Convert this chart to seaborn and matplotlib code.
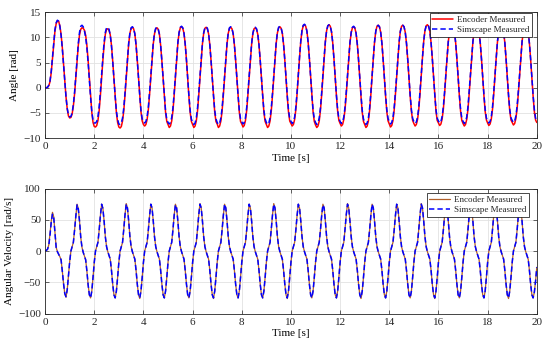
import matplotlib
matplotlib.use("Agg")
import matplotlib.pyplot as plt
import seaborn as sns
import numpy as np

# sampled every 0.05 s, one row per second, last value at t = 20 s
encoder_angle = [
    0.0, 0.0, 0.1, 0.4, 1.2, 3.0, 5.8, 8.8, 11.2, 12.7, 13.3, 13.2, 12.3, 10.6, 8.0, 4.8, 1.4, -1.8, -4.2, -5.6,
    -6.0, -5.9, -5.2, -3.6, -1.2, 2.0, 5.4, 8.4, 10.5, 11.6, 11.9, 11.8, 11.4, 10.4, 8.4, 5.4, 1.9, -1.8, -4.9, -6.9,
    -7.7, -7.8, -7.5, -6.5, -4.5, -1.5, 2.0, 5.4, 8.5, 10.6, 11.6, 11.7, 11.4, 10.5, 8.4, 5.3, 1.8, -1.9, -5.0, -6.9,
    -7.8, -8.0, -7.7, -6.6, -4.6, -1.5, 2.0, 5.5, 8.7, 10.8, 11.8, 12.0, 11.7, 10.7, 8.5, 5.4, 1.9, -1.8, -4.8, -6.6,
    -7.3, -7.6, -7.3, -6.3, -4.3, -1.3, 2.1, 5.6, 8.7, 10.7, 11.7, 11.9, 11.6, 10.6, 8.4, 5.3, 1.8, -1.9, -4.9, -6.7,
    -7.3, -7.9, -7.6, -6.6, -4.6, -1.5, 2.0, 5.6, 8.8, 10.9, 11.9, 12.1, 11.8, 10.8, 8.6, 5.5, 1.9, -1.8, -4.9, -6.7,
    -7.3, -7.9, -7.6, -6.6, -4.6, -1.5, 2.0, 5.5, 8.7, 10.8, 11.8, 12.0, 11.7, 10.7, 8.5, 5.4, 1.9, -1.8, -4.9, -6.7,
    -7.2, -7.9, -7.6, -6.6, -4.6, -1.5, 2.0, 5.5, 8.7, 10.8, 11.8, 12.0, 11.7, 10.7, 8.5, 5.4, 1.9, -1.8, -4.9, -6.7,
    -7.2, -7.8, -7.5, -6.5, -4.5, -1.4, 2.0, 5.5, 8.6, 10.7, 11.7, 11.9, 11.6, 10.6, 8.5, 5.4, 1.9, -1.8, -4.9, -6.7,
    -7.3, -7.9, -7.6, -6.6, -4.6, -1.5, 2.0, 5.6, 8.8, 10.9, 11.9, 12.1, 11.8, 10.8, 8.6, 5.5, 1.9, -1.8, -4.8, -6.6,
    -7.1, -7.6, -7.3, -6.3, -4.3, -1.2, 2.4, 6.0, 9.2, 11.3, 12.3, 12.5, 12.2, 11.2, 9.0, 5.8, 2.2, -1.6, -4.8, -6.7,
    -7.4, -7.9, -7.6, -6.6, -4.5, -1.4, 2.2, 5.9, 9.1, 11.3, 12.3, 12.5, 12.2, 11.1, 8.9, 5.7, 2.1, -1.6, -4.7, -6.5,
    -7.1, -7.6, -7.3, -6.3, -4.3, -1.3, 2.2, 5.7, 8.9, 10.9, 11.9, 12.1, 11.8, 10.8, 8.6, 5.5, 1.9, -1.8, -4.9, -6.7,
    -7.3, -7.9, -7.6, -6.6, -4.5, -1.4, 2.2, 5.8, 9.0, 11.2, 12.2, 12.4, 12.1, 11.0, 8.8, 5.6, 2.0, -1.7, -4.8, -6.6,
    -7.2, -7.8, -7.5, -6.5, -4.4, -1.3, 2.2, 5.8, 9.0, 11.2, 12.2, 12.4, 12.1, 11.0, 8.8, 5.6, 2.0, -1.7, -4.7, -6.5,
    -7.1, -7.6, -7.3, -6.3, -4.3, -1.2, 2.4, 6.0, 9.2, 11.3, 12.3, 12.5, 12.2, 11.2, 8.9, 5.8, 2.2, -1.6, -4.7, -6.5,
    -7.0, -7.5, -7.2, -6.2, -4.2, -1.2, 2.4, 6.0, 9.1, 11.2, 12.2, 12.4, 12.1, 11.1, 8.9, 5.7, 2.1, -1.6, -4.7, -6.5,
    -7.1, -7.6, -7.3, -6.3, -4.3, -1.2, 2.3, 5.9, 9.1, 11.2, 12.2, 12.4, 12.1, 11.1, 8.9, 5.7, 2.1, -1.6, -4.7, -6.4,
    -7.0, -7.5, -7.2, -6.2, -4.2, -1.2, 2.4, 6.0, 9.1, 11.2, 12.2, 12.4, 12.1, 11.1, 8.9, 5.7, 2.1, -1.6, -4.6, -6.4,
    -6.9, -7.4, -7.1, -6.1, -4.1, -1.1, 2.4, 6.0, 9.1, 11.1, 12.1, 12.3, 12.0, 11.0, 8.8, 5.6, 2.0, -1.7, -4.7, -6.4,
    -6.9,
]

simscape_angle = [
    0.0, 0.0, 0.1, 0.5, 1.4, 3.3, 6.1, 9.1, 11.5, 12.9, 13.4, 13.2, 12.2, 10.4, 7.8, 4.6, 1.3, -1.8, -4.1, -5.4,
    -5.8, -5.7, -5.0, -3.3, -0.8, 2.4, 5.8, 8.8, 11.0, 12.2, 12.4, 12.1, 11.3, 10.0, 7.9, 5.0, 1.6, -1.9, -4.7, -6.5,
    -7.0, -7.0, -6.7, -5.7, -3.7, -0.7, 2.8, 6.1, 9.0, 11.0, 11.9, 12.0, 11.6, 10.5, 8.3, 5.2, 1.8, -1.7, -4.6, -6.3,
    -7.2, -7.3, -7.0, -6.0, -4.0, -1.0, 2.4, 5.8, 8.9, 10.9, 11.9, 12.1, 11.8, 10.7, 8.5, 5.4, 1.9, -1.6, -4.5, -6.2,
    -6.8, -7.0, -6.7, -5.7, -3.8, -0.8, 2.5, 5.9, 8.9, 10.9, 11.8, 12.0, 11.7, 10.6, 8.4, 5.3, 1.9, -1.7, -4.6, -6.3,
    -6.9, -7.2, -6.9, -5.9, -4.0, -1.0, 2.4, 5.9, 9.0, 11.0, 12.0, 12.2, 11.9, 10.8, 8.6, 5.5, 2.0, -1.6, -4.5, -6.2,
    -6.9, -7.3, -7.0, -6.0, -4.0, -1.0, 2.4, 5.8, 8.9, 10.9, 11.9, 12.1, 11.8, 10.7, 8.5, 5.4, 1.9, -1.6, -4.5, -6.2,
    -6.9, -7.3, -7.0, -6.0, -4.0, -1.0, 2.4, 5.8, 8.9, 10.9, 11.9, 12.1, 11.8, 10.7, 8.5, 5.4, 1.9, -1.6, -4.5, -6.2,
    -6.8, -7.2, -6.9, -5.9, -3.9, -0.9, 2.4, 5.8, 8.8, 10.8, 11.8, 12.0, 11.7, 10.7, 8.5, 5.4, 1.9, -1.6, -4.5, -6.2,
    -6.9, -7.3, -7.0, -6.0, -4.0, -1.0, 2.4, 5.9, 9.0, 11.0, 12.0, 12.2, 11.9, 10.8, 8.6, 5.5, 2.0, -1.5, -4.4, -6.1,
    -6.7, -7.1, -6.8, -5.8, -3.8, -0.8, 2.7, 6.2, 9.3, 11.4, 12.4, 12.6, 12.3, 11.2, 8.9, 5.8, 2.2, -1.4, -4.4, -6.2,
    -6.9, -7.3, -7.0, -6.0, -4.0, -0.9, 2.6, 6.1, 9.2, 11.3, 12.3, 12.5, 12.2, 11.1, 8.9, 5.7, 2.1, -1.5, -4.4, -6.1,
    -6.7, -7.1, -6.8, -5.8, -3.8, -0.8, 2.5, 5.9, 9.0, 11.0, 12.0, 12.2, 11.9, 10.8, 8.6, 5.5, 2.0, -1.5, -4.5, -6.2,
    -6.9, -7.3, -7.0, -6.0, -4.0, -0.9, 2.5, 6.0, 9.1, 11.2, 12.2, 12.4, 12.1, 11.0, 8.8, 5.6, 2.0, -1.5, -4.4, -6.1,
    -6.8, -7.2, -6.9, -5.9, -3.9, -0.8, 2.6, 6.0, 9.1, 11.2, 12.2, 12.4, 12.1, 11.0, 8.8, 5.6, 2.0, -1.5, -4.4, -6.1,
    -6.7, -7.1, -6.8, -5.8, -3.8, -0.7, 2.7, 6.2, 9.3, 11.3, 12.3, 12.5, 12.2, 11.2, 8.9, 5.8, 2.2, -1.4, -4.4, -6.1,
    -6.6, -7.0, -6.7, -5.7, -3.7, -0.7, 2.7, 6.1, 9.2, 11.2, 12.2, 12.4, 12.1, 11.1, 8.9, 5.7, 2.1, -1.4, -4.3, -6.0,
    -6.7, -7.1, -6.8, -5.8, -3.8, -0.7, 2.6, 6.0, 9.1, 11.2, 12.2, 12.4, 12.1, 11.1, 8.9, 5.7, 2.1, -1.4, -4.3, -6.0,
    -6.6, -7.0, -6.7, -5.7, -3.7, -0.7, 2.7, 6.1, 9.2, 11.2, 12.2, 12.4, 12.1, 11.1, 8.9, 5.7, 2.1, -1.4, -4.3, -6.0,
    -6.5, -6.9, -6.6, -5.6, -3.6, -0.6, 2.7, 6.1, 9.1, 11.1, 12.1, 12.3, 12.0, 11.0, 8.8, 5.6, 2.0, -1.5, -4.3, -6.0,
    -6.5,
]

encoder_velocity = [
    0, 1, 3, 10, 28, 48, 62, 55, 30, 6, -1, -5, -9, -14, -32, -52, -68, -74, -62, -40,
    -17, 0, 7, 14, 34, 56, 75, 68, 48, 22, 6, -2, -8, -14, -32, -54, -70, -75, -64, -42,
    -18, 0, 7, 14, 34, 57, 75, 69, 48, 23, 7, -1, -7, -13, -31, -53, -70, -75, -64, -42,
    -18, 0, 7, 14, 35, 58, 76, 69, 48, 23, 7, -1, -7, -13, -31, -53, -70, -76, -64, -42,
    -18, 0, 7, 14, 34, 57, 75, 69, 48, 23, 7, -1, -7, -13, -31, -53, -70, -75, -64, -42,
    -18, 0, 7, 14, 34, 57, 75, 69, 48, 23, 7, -1, -7, -13, -31, -53, -70, -75, -64, -42,
    -18, 0, 7, 14, 35, 58, 76, 69, 48, 23, 7, -1, -7, -13, -31, -53, -70, -76, -64, -42,
    -18, 0, 7, 14, 34, 57, 75, 69, 48, 23, 7, -1, -7, -13, -31, -53, -70, -75, -64, -42,
    -18, 0, 7, 14, 34, 57, 75, 69, 48, 23, 7, -1, -7, -13, -31, -53, -70, -75, -64, -42,
    -18, 0, 7, 14, 35, 58, 76, 69, 48, 23, 7, -1, -7, -13, -31, -53, -70, -76, -64, -42,
    -18, 0, 7, 14, 34, 57, 75, 69, 48, 23, 7, -1, -7, -13, -31, -53, -70, -75, -64, -42,
    -18, 0, 7, 14, 34, 57, 75, 69, 48, 23, 7, -1, -7, -13, -31, -53, -70, -75, -64, -42,
    -18, 0, 7, 14, 35, 58, 76, 69, 48, 23, 7, -1, -7, -13, -31, -53, -70, -76, -64, -42,
    -18, 0, 7, 14, 34, 57, 75, 69, 48, 23, 7, -1, -7, -13, -31, -53, -70, -75, -64, -42,
    -18, 0, 7, 14, 34, 57, 75, 69, 48, 23, 7, -1, -7, -13, -31, -53, -70, -75, -64, -42,
    -18, 0, 7, 14, 35, 58, 76, 69, 48, 23, 7, -1, -7, -13, -31, -53, -70, -76, -64, -42,
    -18, 0, 7, 14, 34, 57, 75, 69, 48, 23, 7, -1, -7, -13, -31, -53, -70, -75, -64, -42,
    -18, 0, 7, 14, 34, 57, 75, 69, 48, 23, 7, -1, -7, -13, -31, -53, -70, -75, -64, -42,
    -18, 0, 7, 14, 35, 58, 76, 69, 48, 23, 7, -1, -7, -13, -31, -53, -70, -76, -64, -42,
    -18, 0, 7, 14, 34, 57, 75, 69, 48, 23, 7, -1, -7, -13, -31, -53, -70, -75, -66, -48,
    -26,
]

simscape_velocity = [
    0, 1, 3, 9, 26, 46, 59, 54, 30, 6, -1, -5, -9, -14, -32, -52, -68, -73, -62, -40,
    -17, 0, 7, 14, 34, 56, 74, 68, 48, 22, 6, -2, -8, -14, -32, -54, -70, -75, -64, -42,
    -18, 0, 7, 14, 34, 57, 75, 68, 48, 23, 7, -1, -7, -13, -31, -53, -70, -75, -64, -42,
    -18, 0, 7, 14, 35, 58, 75, 69, 48, 23, 7, -1, -7, -13, -31, -53, -70, -75, -64, -42,
    -18, 0, 7, 14, 34, 57, 75, 69, 48, 23, 7, -1, -7, -13, -31, -53, -70, -75, -64, -42,
    -18, 0, 7, 14, 34, 57, 74, 69, 48, 23, 7, -1, -7, -13, -31, -53, -70, -75, -64, -42,
    -18, 0, 7, 14, 35, 58, 75, 69, 48, 23, 7, -1, -7, -13, -31, -53, -70, -75, -64, -42,
    -18, 0, 7, 14, 34, 57, 75, 69, 48, 23, 7, -1, -7, -13, -31, -53, -70, -75, -64, -42,
    -18, 0, 7, 14, 34, 57, 75, 69, 48, 23, 7, -1, -7, -13, -31, -53, -70, -75, -64, -42,
    -18, 0, 7, 14, 35, 58, 75, 69, 48, 23, 7, -1, -7, -13, -31, -53, -70, -75, -64, -42,
    -18, 0, 7, 14, 34, 57, 75, 69, 48, 23, 7, -1, -7, -13, -31, -53, -70, -75, -64, -42,
    -18, 0, 7, 14, 34, 57, 74, 69, 48, 23, 7, -1, -7, -13, -31, -53, -70, -75, -64, -42,
    -18, 0, 7, 14, 35, 58, 75, 69, 48, 23, 7, -1, -7, -13, -31, -53, -70, -75, -64, -42,
    -18, 0, 7, 14, 34, 57, 75, 69, 48, 23, 7, -1, -7, -13, -31, -53, -70, -75, -64, -42,
    -18, 0, 7, 14, 34, 57, 75, 69, 48, 23, 7, -1, -7, -13, -31, -53, -70, -75, -64, -42,
    -18, 0, 7, 14, 35, 58, 75, 69, 48, 23, 7, -1, -7, -13, -31, -53, -70, -75, -64, -42,
    -18, 0, 7, 14, 34, 57, 75, 69, 48, 23, 7, -1, -7, -13, -31, -53, -70, -75, -64, -42,
    -18, 0, 7, 14, 34, 57, 74, 69, 48, 23, 7, -1, -7, -13, -31, -53, -70, -75, -64, -42,
    -18, 0, 7, 14, 35, 58, 75, 69, 48, 23, 7, -1, -7, -13, -31, -53, -70, -75, -64, -42,
    -18, 0, 7, 14, 34, 57, 75, 69, 48, 23, 7, -1, -7, -13, -31, -53, -70, -75, -66, -48,
    -26,
]

sample_step = 0.05
time_s = np.round(np.arange(len(encoder_angle)) * sample_step, 2)

x_ticks = [0, 2, 4, 6, 8, 10, 12, 14, 16, 18, 20]
angle_ticks = [-10, -5, 0, 5, 10, 15]
velocity_ticks = [-100, -50, 0, 50, 100]

sns.set_theme(style="whitegrid")
plt.rcParams["font.family"] = ["Liberation Serif", "DejaVu Serif"]

fig = plt.figure(figsize=(5.5, 3.47), dpi=100)
ax1 = fig.add_axes([0.082, 0.602, 0.894, 0.363])
ax2 = fig.add_axes([0.082, 0.0965, 0.894, 0.360])

dash = (0, (3.5, 2))

sns.lineplot(x=time_s, y=encoder_angle, ax=ax1, color="#ff0000", linewidth=1.1,
             label="Encoder Measured")
sns.lineplot(x=time_s, y=simscape_angle, ax=ax1, color="#0000ff", linewidth=1.1,
             linestyle=dash, label="Simscape Measured")

sns.lineplot(x=time_s, y=encoder_velocity, ax=ax2, color="#b0602a", linewidth=0.9,
             label="Encoder Measured")
sns.lineplot(x=time_s, y=simscape_velocity, ax=ax2, color="#0000ff", linewidth=1.1,
             linestyle=dash, label="Simscape Measured")

for ax, yticks, ylabel in [(ax1, angle_ticks, "Angle [rad]"),
                           (ax2, velocity_ticks, "Angular Velocity [rad/s]")]:
    ax.set_xlim(0, 20)
    ax.set_ylim(yticks[0], yticks[-1])
    ax.set_xticks(x_ticks)
    ax.set_yticks(yticks)
    ax.set_xlabel("Time [s]", fontsize=8, color="black", labelpad=2)
    ax.set_ylabel(ylabel, fontsize=8, color="black", labelpad=3)
    ax.grid(True, color="#e2e2e2", linewidth=0.6)
    ax.tick_params(direction="in", length=3, width=0.5, top=True, right=True,
                   bottom=True, left=True, labelsize=8, colors="#262626", pad=3)
    for s in ax.spines.values():
        s.set_color("#262626")
        s.set_linewidth(0.6)

leg1 = ax1.legend(loc="upper right", bbox_to_anchor=(0.99, 0.992), borderaxespad=0,
                  fontsize=6.5, handlelength=2.3, fancybox=False, framealpha=1,
                  edgecolor="black", borderpad=0.3, labelspacing=0.2, handletextpad=0.4)
leg2 = ax2.legend(loc="upper right", bbox_to_anchor=(0.984, 0.964), borderaxespad=0,
                  fontsize=6.5, handlelength=2.3, fancybox=False, framealpha=1,
                  edgecolor="black", borderpad=0.3, labelspacing=0.2, handletextpad=0.4)
for leg in (leg1, leg2):
    leg.get_frame().set_linewidth(0.5)

fig.savefig("out.png", dpi=100)
